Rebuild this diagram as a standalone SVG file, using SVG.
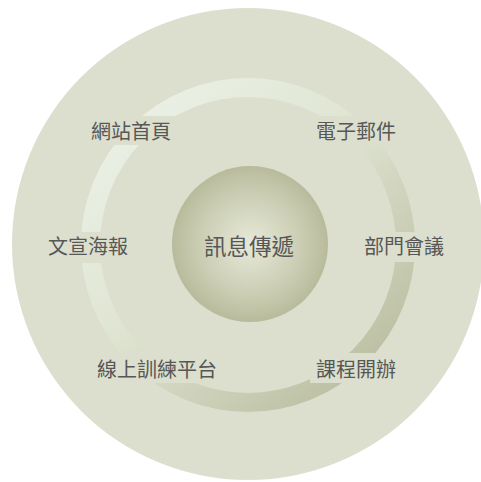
<svg xmlns="http://www.w3.org/2000/svg" width="481" height="482" viewBox="0 0 481 482">
  <defs>
    <linearGradient id="ringGrad" gradientUnits="userSpaceOnUse" x1="110" y1="90" x2="390" y2="400">
      <stop offset="0" stop-color="#ecf3e8"/>
      <stop offset="0.45" stop-color="#dfe4d2"/>
      <stop offset="1" stop-color="#b5b899"/>
    </linearGradient>
    <radialGradient id="coreGrad" cx="250" cy="244" r="78" gradientUnits="userSpaceOnUse">
      <stop offset="0" stop-color="#e7e9d9"/>
      <stop offset="0.6" stop-color="#cdd0b6"/>
      <stop offset="1" stop-color="#b8bb9b"/>
    </radialGradient>
  </defs>
  <style>
    .lbl { font-family: "Noto Sans CJK TC", "Noto Sans CJK SC", sans-serif; font-size: 20px; fill: #575757; text-anchor: middle; dominant-baseline: central; }
    .core { font-size: 22.5px; }
    .bg { fill: #dcdfcd; }
  </style>
  <circle id="outer" cx="248" cy="244" r="236" fill="#dcdfcd"/>
  <g id="connectors">
    <circle cx="248" cy="245" r="157.5" fill="none" stroke="url(#ringGrad)" stroke-width="19"/>
  </g>
  <g id="center">
    <circle cx="250" cy="244" r="78" fill="url(#coreGrad)"/>
    <text class="lbl core" x="249" y="245">訊息傳遞</text>
  </g>
  <g id="n1">
    <rect class="bg" x="85" y="116" width="93" height="29"/>
    <text class="lbl" x="131" y="130">網站首頁</text>
  </g>
  <g id="n2">
    <rect class="bg" x="310" y="116" width="93" height="29"/>
    <text class="lbl" x="356" y="130">電子郵件</text>
  </g>
  <g id="n3">
    <rect class="bg" x="42" y="232" width="93" height="31"/>
    <text class="lbl" x="88" y="245">文宣海報</text>
  </g>
  <g id="n4">
    <rect class="bg" x="357" y="232" width="93" height="30"/>
    <text class="lbl" x="404" y="245">部門會議</text>
  </g>
  <g id="n5">
    <rect class="bg" x="91" y="352" width="133" height="31"/>
    <text class="lbl" x="157" y="368">線上訓練平台</text>
  </g>
  <g id="n6">
    <rect class="bg" x="310" y="353" width="93" height="30"/>
    <text class="lbl" x="356" y="368">課程開辦</text>
  </g>
</svg>
